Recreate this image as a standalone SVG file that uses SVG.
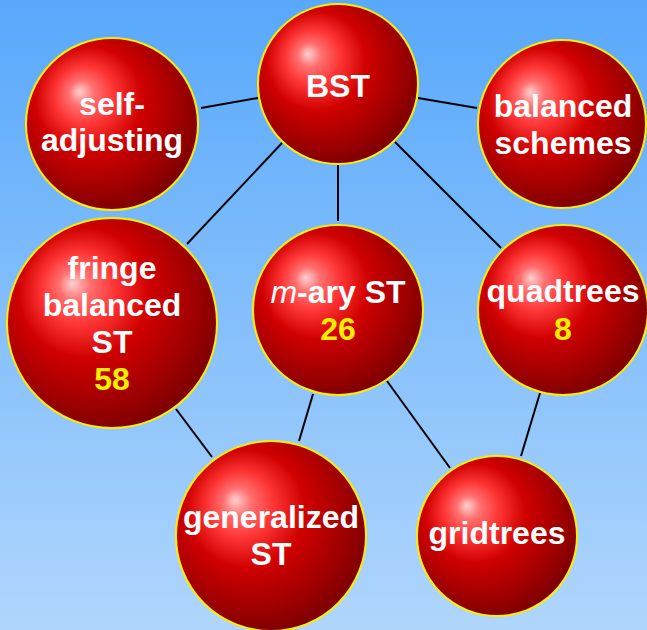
<svg xmlns="http://www.w3.org/2000/svg" width="647" height="630" viewBox="0 0 647 630">
<defs>
<linearGradient id="bg" x1="0" y1="0" x2="0" y2="1">
<stop offset="0" stop-color="#58a8fc"/>
<stop offset="1" stop-color="#b0d6fc"/>
</linearGradient>
<radialGradient id="ball" cx="0.44" cy="0.42" r="0.74" fx="0.31" fy="0.31">
<stop offset="0" stop-color="#ffd0d0"/>
<stop offset="0.1" stop-color="#ff7070"/>
<stop offset="0.23" stop-color="#ff3636"/>
<stop offset="0.42" stop-color="#d00000"/>
<stop offset="0.67" stop-color="#a00000"/>
<stop offset="1" stop-color="#5a0000"/>
</radialGradient>
<style>
.s{fill:url(#ball);stroke:#ffee00;stroke-width:2}
.t{font-family:"Liberation Sans",Arial,sans-serif;font-weight:bold;font-size:32px;fill:#ffffff;text-anchor:middle}
.n{fill:#ffee00}
.i{font-style:italic;font-weight:normal}
.c line{stroke:#000;stroke-width:2}
</style>
</defs>
<rect width="647" height="630" fill="url(#bg)"/>
<g id="connectors" class="c">
<line x1="201" y1="108" x2="258" y2="98"/>
<line x1="282" y1="143" x2="187" y2="244"/>
<line x1="338" y1="164" x2="338" y2="221"/>
<line x1="418" y1="98" x2="477" y2="108"/>
<line x1="395" y1="142" x2="501" y2="248"/>
<line x1="176" y1="409" x2="212" y2="457"/>
<line x1="313" y1="394" x2="299" y2="441"/>
<line x1="387" y1="381" x2="450" y2="468"/>
<line x1="540" y1="393" x2="521" y2="456"/>
</g>
<g id="bst"><circle class="s" cx="338" cy="84" r="80"/><text class="t" x="338" y="97">BST</text></g>
<g id="self-adjusting"><circle class="s" cx="112" cy="124" r="86"/><text class="t" x="112" y="115">self-</text><text class="t" x="112" y="151">adjusting</text></g>
<g id="balanced-schemes"><circle class="s" cx="562" cy="124" r="84"/><text class="t" x="563" y="117">balanced</text><text class="t" x="563" y="154">schemes</text></g>
<g id="fringe"><circle class="s" cx="112" cy="323" r="105"/><text class="t" x="112" y="279">fringe</text><text class="t" x="112" y="316">balanced</text><text class="t" x="112" y="353">ST</text><text class="t n" x="112" y="390">58</text></g>
<g id="mary"><circle class="s" cx="338" cy="310" r="85"/><text class="t" x="338" y="303"><tspan class="i">m</tspan>-ary ST</text><text class="t n" x="338" y="340">26</text></g>
<g id="quadtrees"><circle class="s" cx="563" cy="310" r="85"/><text class="t" x="563" y="302">quadtrees</text><text class="t n" x="563" y="340">8</text></g>
<g id="generalized"><circle class="s" cx="271" cy="536" r="95"/><text class="t" x="271" y="528">generalized</text><text class="t" x="271" y="565">ST</text></g>
<g id="gridtrees"><circle class="s" cx="497" cy="536" r="80"/><text class="t" x="497" y="544">gridtrees</text></g>
</svg>
